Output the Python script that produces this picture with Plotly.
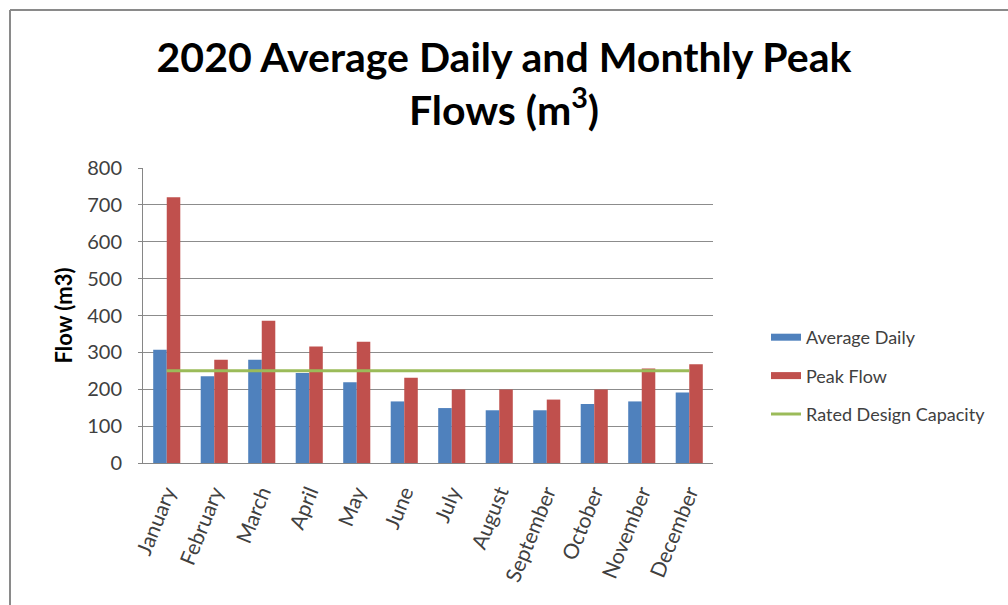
import plotly.graph_objects as go

months = ["January", "February", "March", "April", "May", "June", "July",
          "August", "September", "October", "November", "December"]
average_daily = [307, 235, 280, 244, 219, 167, 149, 143, 143, 160, 167, 191]
peak_flow = [721, 280, 386, 316, 329, 231, 199, 199, 172, 199, 256, 268]
rated_capacity = [250] * 12
y_ticks = [0, 100, 200, 300, 400, 500, 600, 700, 800]

BLUE = "#4F81BD"
RED = "#C0504D"
GREEN = "#9BBB59"
FONT = "Lato"

fig = go.Figure()
fig.add_trace(go.Bar(x=months, y=average_daily, name="Average Daily",
                     marker=dict(color=BLUE, line=dict(width=0)), showlegend=False))
fig.add_trace(go.Bar(x=months, y=peak_flow, name="Peak Flow",
                     marker=dict(color=RED, line=dict(width=0)), showlegend=False))
fig.add_trace(go.Scatter(x=months, y=rated_capacity, name="Rated Design Capacity",
                         mode="lines", line=dict(color=GREEN, width=3), showlegend=False))

# legend entries (Excel style: thick line swatches)
for nm, col, w, grp in [("Average Daily", BLUE, 7, "a"), ("Peak Flow", RED, 7, "b"),
                        ("Rated Design Capacity", GREEN, 3, "c")]:
    fig.add_trace(go.Scatter(x=[None], y=[None], name=nm, mode="lines",
                             line=dict(color=col, width=w), legendgroup=grp,
                             showlegend=True))

L, R, T, B = 143, 295, 168, 142
W, H = 1008, 605
pw, ph = W - L - R, H - T - B

def px(x):
    return (x - L) / pw

def py(y):
    return (H - B - y) / ph

fig.update_layout(
    width=W, height=H,
    margin=dict(l=L, r=R, t=T, b=B),
    paper_bgcolor="white", plot_bgcolor="white",
    barmode="group", bargap=0.43, bargroupgap=0,
    font=dict(family=FONT, color="#404040"),
    title=dict(text="<b>2020 Average Daily and Monthly Peak<br>Flows (m<sup>3</sup>)</b>",
               x=0.5, xanchor="center", xref="container",
               y=1 - 72 / H, yanchor="middle", yref="container",
               font=dict(family=FONT, size=41, color="black")),
    legend=dict(x=px(766), y=py(319), xanchor="left", yanchor="top",
                font=dict(family=FONT, size=18, color="#404040"),
                tracegroupgap=12, bgcolor="rgba(0,0,0,0)"),
    xaxis=dict(tickangle=-68, tickfont=dict(size=21, family=FONT, color="#404040"),
               showline=True, linecolor="#868686", linewidth=1,
               ticks="outside", ticklen=0, showgrid=False, ticklabelstandoff=8),
    yaxis=dict(range=[0, 800], tickvals=y_ticks, ticks="outside", ticklen=4,
               tickcolor="#868686", ticklabelstandoff=12,
               tickfont=dict(size=20, family=FONT, color="#404040"),
               showline=True, linecolor="#868686", linewidth=1,
               gridcolor="#8C8C8C", gridwidth=1, zeroline=False,
               title=dict(text="<b>Flow (m3)</b>", standoff=8,
                          font=dict(size=22, family=FONT, color="black"))),
    shapes=[
        dict(type="line", xref="paper", yref="paper", x0=px(10), x1=px(1008),
             y0=py(10), y1=py(10), line=dict(color="#8A8A8A", width=2)),
        dict(type="line", xref="paper", yref="paper", x0=px(10), x1=px(10),
             y0=py(10), y1=py(605), line=dict(color="#8A8A8A", width=2)),
    ],
)

fig.write_html("out.html")
